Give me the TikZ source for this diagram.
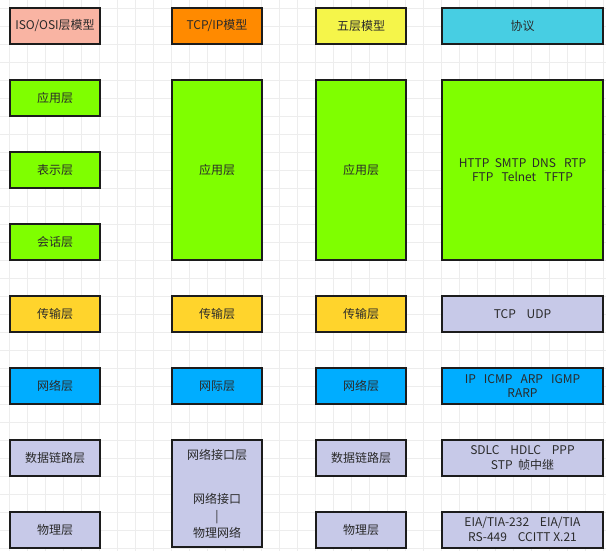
\documentclass[tikz,border=0pt]{standalone}
\usepackage{fontspec}
\setmainfont{Noto Sans CJK SC}
\usepackage{tikz}

\definecolor{osiC}{HTML}{F9B4A3}
\definecolor{tcpC}{HTML}{FF8A00}
\definecolor{fiveC}{HTML}{F5F54A}
\definecolor{protC}{HTML}{47CEE3}
\definecolor{appC}{HTML}{7FFF00}
\definecolor{transC}{HTML}{FFD42C}
\definecolor{netC}{HTML}{00ADFF}
\definecolor{linkC}{HTML}{C7C9E8}
\definecolor{edgeC}{HTML}{1C1C1C}
\definecolor{textC}{HTML}{2A2A2A}

\tikzset{
  layer/.style={draw=edgeC,line width=1.5pt,minimum width=67.5pt,minimum height=27pt,
    inner sep=0pt,font=\fontsize{9}{11}\selectfont,text=textC,align=center},
  wide/.style={layer,minimum width=120.75pt},
  gridline/.style={draw=gray!14,line width=0.4pt}
}

\begin{document}
\begin{tikzpicture}
  [x=0.75pt,y=-0.75pt]
  \useasboundingbox (0,0) rectangle (606,551);
  \fill[white] (0,0) rectangle (606,551);
  \foreach \gx in {9,27,...,606}
  \draw[gridline] (\gx,0) -- (\gx,551);
  \foreach \gy in {8,26,...,551}
  \draw[gridline] (0,\gy) -- (606,\gy);

  % header row
  \node[layer,fill=osiC] (h1) at (55,26) {ISO/OSI层模型};
  \node[layer,fill=tcpC] (h2) at (217,26) {TCP/IP模型};
  \node[layer,fill=fiveC] (h3) at (361,26) {五层模型};
  \node[wide,fill=protC] (h4) at (522.5,26) {协议};

  % osi column
  \node[layer,fill=appC] (o7) at (55,98) {应用层};
  \node[layer,fill=appC] (o6) at (55,170) {表示层};
  \node[layer,fill=appC] (o5) at (55,242) {会话层};
  \node[layer,fill=transC] (o4) at (55,314) {传输层};
  \node[layer,fill=netC] (o3) at (55,386) {网络层};
  \node[layer,fill=linkC] (o2) at (55,458) {数据链路层};
  \node[layer,fill=linkC] (o1) at (55,529.5) {物理层};

  % tcp/ip column
  \node[layer,fill=appC,minimum height=135pt] (t4) at (217,170) {应用层};
  \node[layer,fill=transC] (t3) at (217,314) {传输层};
  \node[layer,fill=netC] (t2) at (217,386) {网际层};
  \node[layer,fill=linkC,minimum height=80.25pt] (t1) at (217,493.5) {};
  \node[font=\fontsize{9}{11}\selectfont,text=textC] (t1a) at (217,455) {网络接口层};
  \node[font=\fontsize{9}{13}\selectfont,text=textC,align=center] (t1b) at (217,516)
    {网络接口\\|\\物理网络};

  % five layer column
  \node[layer,fill=appC,minimum height=135pt] (f5) at (361,170) {应用层};
  \node[layer,fill=transC] (f4) at (361,314) {传输层};
  \node[layer,fill=netC] (f3) at (361,386) {网络层};
  \node[layer,fill=linkC] (f2) at (361,458) {数据链路层};
  \node[layer,fill=linkC] (f1) at (361,529.5) {物理层};

  % protocols
  \node[wide,fill=appC,minimum height=135pt] (p5) at (522.5,170)
    {HTTP\ \ SMTP\ \ DNS\ \ \ RTP\\FTP\ \ \ Telnet\ \ \ TFTP};
  \node[wide,fill=linkC] (p4) at (522.5,314) {TCP\ \ \ \ UDP};
  \node[wide,fill=netC] (p3) at (522.5,386) {IP\ \ \ ICMP\ \ \ ARP\ \ \ IGMP\\RARP};
  \node[wide,fill=linkC] (p2) at (522.5,458) {SDLC\ \ \ \ HDLC\ \ \ \ PPP\\STP\ \ 帧中继};
  \node[wide,fill=linkC] (p1) at (522.5,529.5) {EIA/TIA-232\ \ \ \ EIA/TIA\\RS-449\ \ \ \ CCITT X.21};

\end{tikzpicture}
\end{document}
